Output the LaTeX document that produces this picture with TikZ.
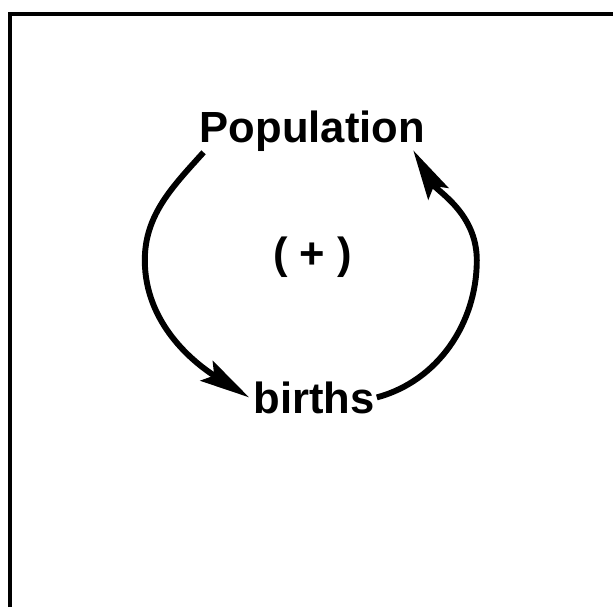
\documentclass[tikz,border=0pt]{standalone}
\usepackage{fontspec}
\setmainfont{Liberation Sans}
\usetikzlibrary{arrows.meta}
\begin{document}
\begin{tikzpicture}[transform shape,
	word/.style={shape=rectangle, inner sep=0pt, anchor=base, font=\bfseries\fontsize{31}{37}\selectfont},
	wire/.style={line width=4.2pt, -{Stealth[length=1.25cm, width=0.58cm, inset=0.22cm]}}]
	\useasboundingbox (0, 0) rectangle (15.325, 15.175);
	% Paths, nodes and wires:
	\draw[line width=0.1cm] (0.25, 0) |- (15.325, 14.825);
	\node[word] (pop) at (7.81, 11.6){Population};
	\node[word] (births) at (7.85, 4.85){births};
	\node[word] (sign) at (7.81, 8.45){( + )};
	\coordinate (lft) at (3.62, 8.67);
	\coordinate (rgt) at (11.92, 8.67);
	\draw[wire] ([xshift=0.1cm]pop.south west) to[out=228, in=90, looseness=0.95] (lft) to[out=270, in=148, looseness=0.95] ([xshift=-0.1cm]births.west);
	\draw[wire] ([xshift=0.05cm]births.east) to[out=15, in=270, looseness=0.95] (rgt) to[out=90, in=300, looseness=0.95] ([xshift=-0.3cm, yshift=0.05cm]pop.south east);
\end{tikzpicture}
\end{document}
